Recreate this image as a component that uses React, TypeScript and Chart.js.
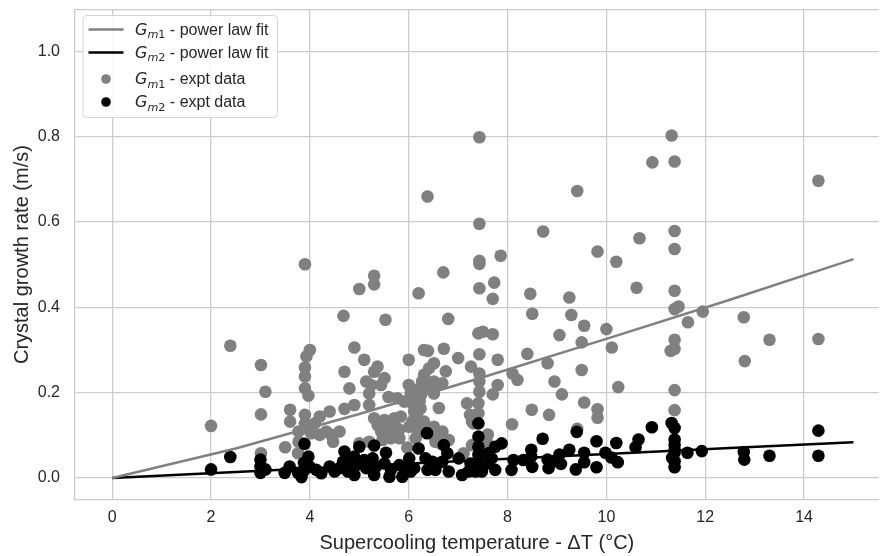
import React, { useEffect, useRef } from "react";
import { Chart, registerables } from "chart.js";

Chart.register(...registerables);

const FONT = '"Liberation Sans", Arial, sans-serif';
const MATH = '"DejaVu Sans", sans-serif';

// Gm1 experimental data (grey)
const gm1X = [
  2.0, 2.39, 3.01, 3.1, 3.01, 3.01, 3.5, 3.6, 3.6, 3.76, 3.77, 3.77, 3.9, 4.0, 3.93, 3.9, 3.9, 3.9, 3.97, 3.9,
  3.9, 3.93, 4.03, 4.1, 4.2, 4.2, 4.33, 4.4, 4.43, 4.47, 4.6, 4.68, 4.7, 4.7, 4.8, 4.9, 4.9, 5.0, 5.0, 5.1,
  5.3, 5.3, 5.53, 5.37, 5.3, 5.14, 5.24, 5.2, 5.51, 5.44, 5.59, 5.77, 5.91, 5.2, 5.3, 5.37, 5.51, 5.57, 5.71, 5.77,
  5.84, 5.67, 5.81, 5.51, 5.44, 5.2, 5.47, 5.64, 5.81, 6.0, 6.0, 6.04, 6.14, 6.07, 6.11, 6.17, 6.07, 6.01, 5.97, 6.11,
  6.14, 6.2, 6.38, 6.31, 6.39, 6.71, 6.7, 6.8, 6.51, 6.41, 6.31, 6.27, 6.38, 6.51, 6.68, 6.75, 6.51, 6.58, 6.24, 6.31,
  6.24, 6.61, 6.51, 6.68, 6.81, 6.54, 6.64, 6.51, 6.22, 6.25, 7.0, 7.43, 7.43, 7.43, 7.43, 7.43, 7.73, 7.7, 7.86, 7.41,
  7.5, 7.7, 7.43, 7.8, 7.26, 7.43, 7.43, 7.43, 7.8, 7.7, 7.18, 7.24, 7.41, 7.41, 7.31, 7.6, 7.28, 7.11, 7.58, 7.28,
  8.1, 8.2, 8.09, 8.4, 8.46, 8.5, 8.72, 8.81, 8.95, 8.49, 8.84, 9.05, 9.1, 9.25, 9.29, 9.41, 9.41, 9.5, 9.5, 9.55,
  9.55, 9.82, 9.82, 9.82, 10.0, 10.2, 10.11, 10.24, 10.61, 10.67, 10.93, 11.32, 11.38, 11.38, 11.38, 11.38, 11.38, 11.46, 11.65, 11.38,
  11.38, 11.3, 11.38, 11.38, 11.95, 12.78, 12.8, 13.3, 14.29, 14.29,
];
const gm1Y = [
  0.122, 0.31, 0.265, 0.202, 0.149, 0.058, 0.072, 0.16, 0.132, 0.058, 0.085, 0.109, 0.501, 0.3, 0.285, 0.259, 0.238, 0.21, 0.193, 0.148,
  0.128, 0.116, 0.105, 0.128, 0.144, 0.101, 0.109, 0.156, 0.101, 0.085, 0.109, 0.38, 0.249, 0.162, 0.21, 0.306, 0.171, 0.443, 0.081, 0.277,
  0.474, 0.454, 0.371, 0.261, 0.249, 0.226, 0.218, 0.198, 0.234, 0.218, 0.19, 0.187, 0.179, 0.171, 0.14, 0.124, 0.136, 0.12, 0.14, 0.116,
  0.144, 0.101, 0.093, 0.101, 0.109, 0.085, 0.089, 0.093, 0.113, 0.277, 0.218, 0.198, 0.206, 0.175, 0.156, 0.144, 0.132, 0.12, 0.071, 0.12,
  0.093, 0.433, 0.66, 0.3, 0.298, 0.303, 0.482, 0.373, 0.269, 0.257, 0.242, 0.226, 0.214, 0.226, 0.222, 0.25, 0.198, 0.218, 0.163, 0.132,
  0.109, 0.164, 0.12, 0.109, 0.089, 0.085, 0.081, 0.1, 0.18, 0.195, 0.281, 0.799, 0.596, 0.509, 0.502, 0.445, 0.458, 0.42, 0.521, 0.339,
  0.343, 0.337, 0.29, 0.277, 0.261, 0.245, 0.226, 0.202, 0.218, 0.196, 0.175, 0.148, 0.175, 0.152, 0.128, 0.102, 0.077, 0.058, 0.085, 0.132,
  0.245, 0.23, 0.126, 0.291, 0.432, 0.385, 0.578, 0.269, 0.226, 0.16, 0.148, 0.335, 0.196, 0.423, 0.382, 0.673, 0.115, 0.318, 0.253, 0.357,
  0.177, 0.531, 0.161, 0.141, 0.349, 0.507, 0.306, 0.213, 0.446, 0.562, 0.74, 0.803, 0.742, 0.579, 0.537, 0.439, 0.396, 0.402, 0.365, 0.324,
  0.303, 0.298, 0.206, 0.159, 0.39, 0.377, 0.274, 0.324, 0.697, 0.326,
];

// Gm2 experimental data (black)
const gm2X = [
  2.0, 2.39, 3.0, 3.0, 3.0, 3.1, 3.49, 3.59, 3.76, 3.87, 3.83, 3.89, 3.88, 3.97, 4.0, 4.13, 4.23, 4.4, 4.5, 4.6,
  4.7, 4.67, 4.77, 4.82, 4.9, 4.9, 4.94, 5.0, 5.1, 5.14, 5.3, 5.27, 5.34, 5.3, 5.54, 5.51, 5.64, 5.61, 5.81, 5.94,
  5.87, 6.01, 5.97, 6.2, 6.37, 6.11, 6.04, 6.34, 6.48, 6.38, 6.54, 6.71, 6.78, 6.68, 6.81, 7.01, 7.08, 7.21, 7.25, 7.41,
  7.41, 7.41, 7.41, 7.41, 7.35, 7.48, 7.61, 7.68, 7.58, 7.75, 7.88, 7.75, 8.12, 8.08, 8.32, 8.48, 8.48, 8.5, 8.71, 8.81,
  8.83, 8.95, 9.05, 9.08, 9.25, 9.38, 9.4, 9.55, 9.55, 9.8, 9.8, 9.98, 10.1, 10.2, 10.23, 10.59, 10.65, 10.92, 11.32, 11.38,
  11.38, 11.38, 11.38, 11.38, 11.33, 11.38, 11.38, 11.64, 11.93, 12.78, 12.79, 13.3, 14.29, 14.29,
];
const gm2Y = [
  0.02, 0.049, 0.043, 0.027, 0.012, 0.02, 0.012, 0.027, 0.012, 0.016, 0.002, 0.08, 0.035, 0.05, 0.026, 0.019, 0.011, 0.027, 0.015, 0.023,
  0.062, 0.038, 0.015, 0.04, 0.007, 0.05, 0.03, 0.073, 0.042, 0.023, 0.076, 0.046, 0.027, 0.007, 0.059, 0.034, 0.019, 0.003, 0.03, 0.015,
  0.003, 0.046, 0.023, 0.069, 0.105, 0.023, 0.015, 0.046, 0.038, 0.019, 0.019, 0.077, 0.058, 0.038, 0.015, 0.046, 0.007, 0.015, 0.034, 0.128,
  0.097, 0.073, 0.054, 0.03, 0.015, 0.015, 0.058, 0.046, 0.034, 0.073, 0.081, 0.019, 0.042, 0.019, 0.042, 0.066, 0.05, 0.026, 0.092, 0.043,
  0.023, 0.039, 0.055, 0.033, 0.066, 0.02, 0.108, 0.059, 0.037, 0.086, 0.025, 0.059, 0.048, 0.082, 0.037, 0.072, 0.09, 0.119, 0.129, 0.117,
  0.09, 0.078, 0.066, 0.059, 0.047, 0.039, 0.025, 0.059, 0.063, 0.061, 0.043, 0.052, 0.111, 0.052,
];

// Power-law fit lines
const fitX = [0, 2.5, 5, 7.5, 10, 12.5, 15];
const fit1Y = [0, 0.069, 0.15, 0.236, 0.326, 0.418, 0.513];
const fit2Y = [0, 0.014, 0.028, 0.042, 0.056, 0.07, 0.0835];

const xTicks = [0, 2, 4, 6, 8, 10, 12, 14];
const yTicks = [0, 0.2, 0.4, 0.6, 0.8, 1.0];

const GREY = "#808080";
const BLACK = "#000000";
const GRID = "#cccccc";
const TEXT = "#262626";

const pts = (xs: number[], ys: number[]) => xs.map((x, i) => ({ x, y: ys[i] }));

const legendItems = [
  { kind: "line", color: GREY, sub: "m1", label: " - power law fit", y: 29.5 },
  { kind: "line", color: BLACK, sub: "m2", label: " - power law fit", y: 52.5 },
  { kind: "dot", color: GREY, sub: "m1", label: " - expt data", y: 79 },
  { kind: "dot", color: BLACK, sub: "m2", label: " - expt data", y: 102 },
];

const framePlugin = {
  id: "frameAndLegend",
  afterDraw(chart: any) {
    const ctx = chart.ctx;
    const a = chart.chartArea;
    ctx.save();
    // top spine
    ctx.strokeStyle = GRID;
    ctx.lineWidth = 1.25;
    ctx.beginPath();
    ctx.moveTo(a.left, a.top);
    ctx.lineTo(a.right, a.top);
    ctx.stroke();

    // legend box
    const bx = 83, by = 15.5, bw = 194.5, bh = 102, r = 4;
    ctx.beginPath();
    ctx.moveTo(bx + r, by);
    ctx.lineTo(bx + bw - r, by);
    ctx.arcTo(bx + bw, by, bx + bw, by + r, r);
    ctx.lineTo(bx + bw, by + bh - r);
    ctx.arcTo(bx + bw, by + bh, bx + bw - r, by + bh, r);
    ctx.lineTo(bx + r, by + bh);
    ctx.arcTo(bx, by + bh, bx, by + bh - r, r);
    ctx.lineTo(bx, by + r);
    ctx.arcTo(bx, by, bx + r, by, r);
    ctx.closePath();
    ctx.fillStyle = "rgba(255,255,255,0.85)";
    ctx.fill();
    ctx.strokeStyle = "#d5d5d5";
    ctx.lineWidth = 1;
    ctx.stroke();

    for (const it of legendItems) {
      if (it.kind === "line") {
        ctx.strokeStyle = it.color;
        ctx.lineWidth = 2.5;
        ctx.beginPath();
        ctx.moveTo(88.5, it.y);
        ctx.lineTo(123.5, it.y);
        ctx.stroke();
      } else {
        ctx.fillStyle = it.color;
        ctx.beginPath();
        ctx.arc(106, it.y, 4.8, 0, Math.PI * 2);
        ctx.fill();
      }
      const base = it.y + 5;
      let x = 135;
      ctx.fillStyle = TEXT;
      ctx.textBaseline = "alphabetic";
      ctx.textAlign = "left";
      ctx.font = `italic 16px ${MATH}`;
      ctx.fillText("G", x, base);
      x += ctx.measureText("G").width;
      ctx.font = `italic 11.2px ${MATH}`;
      ctx.fillText(it.sub[0], x, base + 3.5);
      x += ctx.measureText(it.sub[0]).width;
      ctx.font = `11.2px ${MATH}`;
      ctx.fillText(it.sub[1], x, base + 3.5);
      x += ctx.measureText(it.sub[1]).width;
      ctx.font = `16px ${FONT}`;
      ctx.fillText(it.label, x, base);
    }
    ctx.restore();
  },
};

export default function App() {
  const ref = useRef<HTMLCanvasElement | null>(null);

  useEffect(() => {
    if (!ref.current) return;
    const chart = new Chart(ref.current, {
      type: "scatter",
      data: {
        datasets: [
          {
            label: "Gm1 - power law fit",
            data: pts(fitX, fit1Y),
            showLine: true,
            borderColor: GREY,
            borderWidth: 2.5,
            pointRadius: 0,
            order: 0,
          } as any,
          {
            label: "Gm2 - power law fit",
            data: pts(fitX, fit2Y),
            showLine: true,
            borderColor: BLACK,
            borderWidth: 2.5,
            pointRadius: 0,
            order: 0,
          } as any,
          {
            label: "Gm1 - expt data",
            data: pts(gm1X, gm1Y),
            backgroundColor: GREY,
            pointRadius: 6.3,
            pointBorderWidth: 0,
            borderWidth: 0,
            order: 2,
          },
          {
            label: "Gm2 - expt data",
            data: pts(gm2X, gm2Y),
            backgroundColor: BLACK,
            pointRadius: 6.3,
            pointBorderWidth: 0,
            borderWidth: 0,
            order: 1,
          },
        ],
      },
      options: {
        animation: false,
        responsive: false,
        devicePixelRatio: 1,
        layout: { padding: { top: 9.5, right: 0, left: 0, bottom: 0 } },
        plugins: { legend: { display: false }, tooltip: { enabled: false } },
        scales: {
          x: {
            type: "linear",
            min: -0.753,
            max: 15.51,
            afterFit: (s: any) => {
              s.height = 56.3;
              s.paddingLeft = 0;
              s.paddingRight = 0;
              s.paddingTop = 0;
              s.paddingBottom = 0;
            },
            afterBuildTicks: (s: any) => {
              s.ticks = xTicks.map((v) => ({ value: v }));
            },
            ticks: {
              color: TEXT,
              font: { family: FONT, size: 16 },
              padding: 8,
              callback: (v: any) => String(v),
            },
            grid: { color: GRID, lineWidth: 1.25, drawTicks: false },
            border: { color: GRID, width: 1.25 },
            title: {
              display: true,
              text: "Supercooling temperature - ΔT (°C)",
              color: TEXT,
              font: { family: FONT, size: 20 },
              padding: { top: 0, bottom: 1 },
            },
          },
          y: {
            type: "linear",
            min: -0.051,
            max: 1.0985,
            afterFit: (s: any) => {
              s.width = 75;
              s.paddingTop = 0;
              s.paddingBottom = 0;
              s.paddingLeft = 0;
              s.paddingRight = 0;
            },
            afterBuildTicks: (s: any) => {
              s.ticks = yTicks.map((v) => ({ value: v }));
            },
            ticks: {
              color: TEXT,
              font: { family: FONT, size: 16 },
              padding: 15,
              callback: (v: any) => Number(v).toFixed(1),
            },
            grid: { color: GRID, lineWidth: 1.25, drawTicks: false },
            border: { color: GRID, width: 1.25 },
            title: {
              display: true,
              text: "Crystal growth rate (m/s)",
              color: TEXT,
              font: { family: FONT, size: 20 },
              padding: { top: 10, bottom: 0 },
            },
          },
        },
      },
      plugins: [framePlugin],
    });
    return () => chart.destroy();
  }, []);

  return (
    <div style={{ position: "fixed", left: 0, top: 0, width: 885, height: 556, background: "#fff" }}>
      <canvas ref={ref} width={885} height={556} style={{ display: "block", width: 885, height: 556 }} />
    </div>
  );
}
